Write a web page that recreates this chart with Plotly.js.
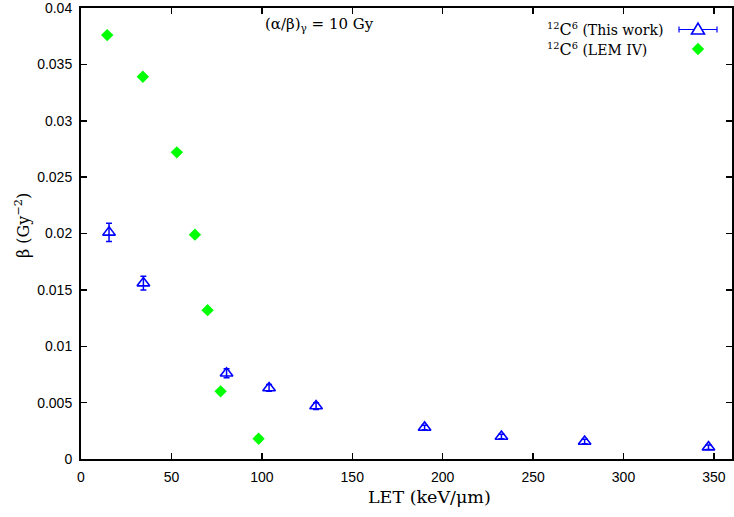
<!DOCTYPE html>
<html>
<head>
<meta charset="utf-8">
<script src="https://cdn.plot.ly/plotly-3.0.1.min.js"></script>
<style>html,body{margin:0;padding:0;background:#fff;}#chart{width:734px;height:517px;}</style>
</head>
<body>
<div id="chart"></div>
<script>
// This work (12C6)
var thisLET   = [15.5, 34.5, 80.5, 104, 130, 190, 232.5, 278.5, 347];
var thisBeta  = [0.0201, 0.0156, 0.0076, 0.0063, 0.0047, 0.0028, 0.0020, 0.00155, 0.00105];
var thisErr   = [0.0008, 0.0006, 0.0004, 0.0003, 0.0003, 0.0002, 0.0002, 0.0002, 0.0002];
// LEM IV (12C6)
var lemLET    = [14.5, 34.2, 53, 63, 70, 77.2, 98.2];
var lemBeta   = [0.0376, 0.0339, 0.0272, 0.0199, 0.0132, 0.0060, 0.0018];

var xTicks = [0, 50, 100, 150, 200, 250, 300, 350];
var yTicks = [0, 0.005, 0.01, 0.015, 0.02, 0.025, 0.03, 0.035, 0.04];
var yTickText = ['0', '0.005', '0.01', '0.015', '0.02', '0.025', '0.03', '0.035', '0.04'];

var legendNames = ['<sup>12</sup><span style="font-size:16px">C</span><sup>6</sup> (This work)',
                   '<sup>12</sup><span style="font-size:16px">C</span><sup>6</sup> (LEM IV)'];

var blue = '#0000ff', green = '#00ff00';
var serif = 'DejaVu Serif, Liberation Serif, serif';
var sans = 'Liberation Sans, Arial, sans-serif';

var traces = [
  {x: thisLET, y: thisBeta, type: 'scatter', mode: 'markers', name: 'This work',
   marker: {symbol: 'triangle-up-open', size: 11, color: blue, line: {width: 1.6, color: blue}},
   error_y: {type: 'data', array: thisErr, visible: true, color: blue, thickness: 1.5, width: 3},
   showlegend: false},
  {x: lemLET, y: lemBeta, type: 'scatter', mode: 'markers', name: 'LEM IV',
   marker: {symbol: 'diamond', size: 9.5, color: green},
   showlegend: false}
];

// pixel -> paper helpers (plot area: left 81, right 732, top 8, bottom 459)
function px(x){ return (x - 81) / 651; }
function py(y){ return (459 - y) / 451; }

var layout = {
  width: 734, height: 517,
  margin: {l: 81, r: 2, t: 8, b: 58},
  paper_bgcolor: '#fff', plot_bgcolor: '#fff',
  showlegend: false,
  xaxis: {
    range: [0, 360], tickvals: xTicks, ticktext: xTicks.map(String),
    ticks: 'inside', ticklen: 6, tickwidth: 1.5, tickcolor: '#000',
    showline: true, linewidth: 2, linecolor: '#000', mirror: 'allticks',
    showgrid: false, zeroline: false, ticklabeloverflow: 'allow',
    tickfont: {family: sans, size: 14, color: '#000'}, ticklabelstandoff: 4
  },
  yaxis: {
    range: [0, 0.04], tickvals: yTicks, ticktext: yTickText,
    ticks: 'inside', ticklen: 6, tickwidth: 1.5, tickcolor: '#000',
    showline: true, linewidth: 2, linecolor: '#000', mirror: 'allticks',
    showgrid: false, zeroline: false, ticklabeloverflow: 'allow',
    tickfont: {family: sans, size: 14, color: '#000'}, ticklabelstandoff: 4
  },
  annotations: [
    {text: 'LET (keV/μm)', xref: 'paper', yref: 'paper', x: px(429), y: py(497),
     xanchor: 'center', yanchor: 'middle', showarrow: false,
     font: {family: serif, size: 17.5, color: '#000'}},
    {text: 'β (Gy<sup>−2</sup>)', xref: 'paper', yref: 'paper', x: px(22), y: py(226),
     xanchor: 'center', yanchor: 'middle', showarrow: false, textangle: -90,
     font: {family: serif, size: 16, color: '#000'}},
    {text: '(α/β)<sub>γ</sub> = 10 Gy', xref: 'paper', yref: 'paper', x: px(319), y: py(24),
     xanchor: 'center', yanchor: 'middle', showarrow: false,
     font: {family: serif, size: 15, color: '#000'}},
    {text: legendNames[0], xref: 'paper', yref: 'paper', x: px(545), y: py(29.5),
     xanchor: 'left', yanchor: 'middle', align: 'left', showarrow: false,
     font: {family: serif, size: 14, color: '#000'}},
    {text: legendNames[1], xref: 'paper', yref: 'paper', x: px(545), y: py(49),
     xanchor: 'left', yanchor: 'middle', align: 'left', showarrow: false,
     font: {family: serif, size: 14, color: '#000'}}
  ],
  shapes: [
    // legend key: error bar line with caps
    {type: 'line', xref: 'paper', yref: 'paper', x0: px(679), x1: px(717), y0: py(29.5), y1: py(29.5),
     line: {color: blue, width: 1.2}},
    {type: 'line', xref: 'paper', yref: 'paper', x0: px(679), x1: px(679), y0: py(26.5), y1: py(32.5),
     line: {color: blue, width: 1.2}},
    {type: 'line', xref: 'paper', yref: 'paper', x0: px(717), x1: px(717), y0: py(26.5), y1: py(32.5),
     line: {color: blue, width: 1.2}},
    {type: 'path', xref: 'paper', yref: 'paper', xsizemode: 'pixel', ysizemode: 'pixel',
     xanchor: px(698), yanchor: py(29.5), path: 'M -6.5,-4.5 L 6.5,-4.5 L 0,6.5 Z',
     fillcolor: '#fff', line: {color: blue, width: 1.6}},
    {type: 'path', xref: 'paper', yref: 'paper', xsizemode: 'pixel', ysizemode: 'pixel',
     xanchor: px(698), yanchor: py(49), path: 'M -6.2,0 L 0,6.2 L 6.2,0 L 0,-6.2 Z',
     fillcolor: green, line: {color: green, width: 0}}
  ]
};

Plotly.newPlot('chart', traces, layout, {staticPlot: true, displayModeBar: false});
</script>
</body>
</html>
